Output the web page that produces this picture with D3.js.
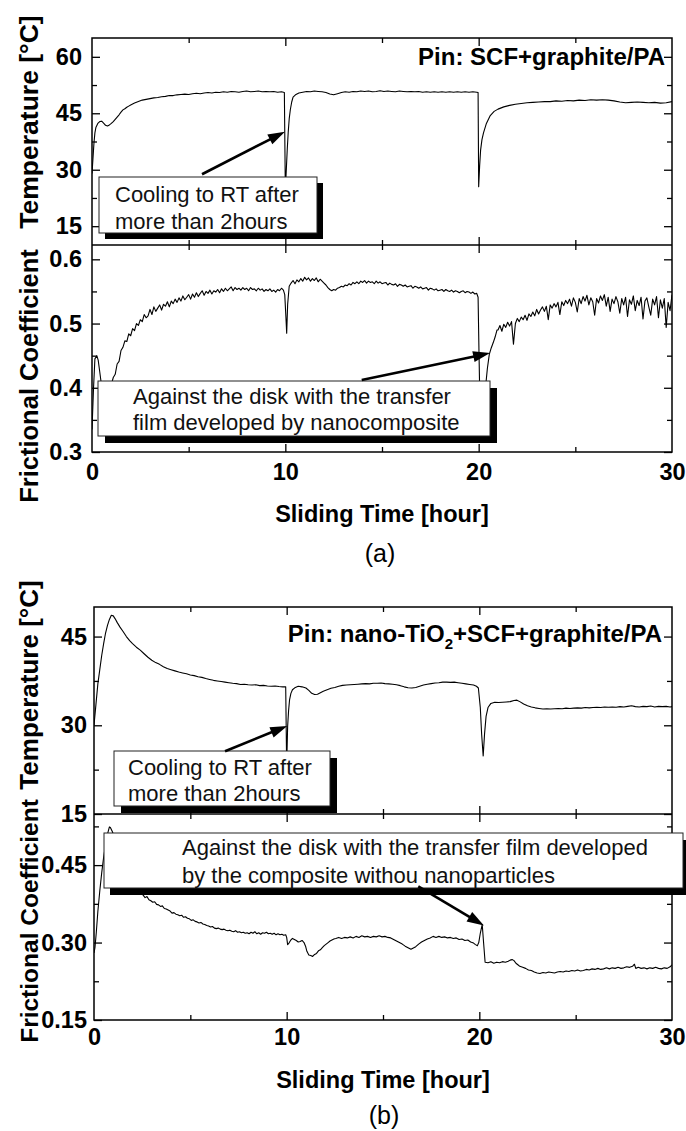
<!DOCTYPE html>
<html>
<head>
<meta charset="utf-8">
<script src="https://cdn.jsdelivr.net/npm/d3@7"></script>
<style>
  body { margin: 0; background: #fff; }
  svg { display: block; }
  text { font-family: "Liberation Sans", Arial, Helvetica, sans-serif; }
</style>
</head>
<body>
<svg id="chart" width="686" height="1131"></svg>
<script>
// ---------- data: [sliding time (h), value] ----------
const tempA = [[0,29],[0.05,33],[0.1,37],[0.15,39.8],[0.2,41.2],[0.3,42.3],[0.4,42.8],[0.5,42.9],[0.6,42.4],[0.7,41.8],[0.8,41.6],[0.9,41.9],[1.0,42.3],[1.1,42.8],[1.2,43.4],[1.3,44.0],[1.4,44.6],[1.5,45.3],[1.6,45.9],[1.7,46.2],[1.8,46.6],[1.9,46.9],[2.0,47.2],[2.2,47.7],[2.4,48.1],[2.6,48.5],[2.8,48.7],[3.0,48.9],[3.2,49.1],[3.4,49.2],[3.6,49.4],[3.8,49.5],[4.0,49.7],[4.2,49.7],[4.4,49.9],[4.6,50.0],[4.8,50.1],[5.0,50.0],[5.2,50.2],[5.4,50.3],[5.6,50.2],[5.8,50.4],[6.0,50.5],[6.2,50.4],[6.4,50.6],[6.6,50.5],[6.8,50.7],[7.0,50.6],[7.2,50.8],[7.4,50.7],[7.6,50.6],[7.8,50.8],[8.0,50.9],[8.2,50.7],[8.4,50.8],[8.6,50.9],[8.8,50.7],[9.0,50.8],[9.2,50.7],[9.4,50.8],[9.6,50.6],[9.8,50.7],[9.95,50.5],[10.0,24.5],[10.05,30],[10.1,35.5],[10.15,40],[10.2,43.5],[10.26,46],[10.33,48],[10.4,49.3],[10.55,50.0],[10.7,50.4],[10.9,50.6],[11.1,50.8],[11.3,50.7],[11.5,50.9],[11.7,50.8],[11.9,50.7],[12.1,50.5],[12.3,50.1],[12.5,49.9],[12.7,50.2],[12.9,50.5],[13.1,50.7],[13.3,50.6],[13.5,50.8],[13.7,50.7],[13.9,50.9],[14.1,50.8],[14.3,50.9],[14.5,50.7],[14.7,50.8],[14.9,51.0],[15.1,50.8],[15.3,50.9],[15.5,50.8],[15.7,50.7],[15.9,50.9],[16.1,50.8],[16.3,50.7],[16.5,50.8],[16.7,50.7],[16.9,50.8],[17.1,50.6],[17.3,50.7],[17.5,50.6],[17.7,50.7],[17.9,50.6],[18.1,50.7],[18.3,50.6],[18.5,50.7],[18.7,50.6],[18.9,50.7],[19.1,50.6],[19.3,50.7],[19.5,50.6],[19.7,50.7],[19.9,50.6],[19.97,50.5],[20.0,25.5],[20.05,31],[20.1,35.2],[20.17,38],[20.25,39.8],[20.4,42.3],[20.6,44.4],[20.8,45.5],[21.0,46.1],[21.3,46.7],[21.6,47.1],[21.9,47.4],[22.2,47.6],[22.5,47.8],[22.8,47.9],[23.1,48.0],[23.4,48.1],[23.7,48.1],[24.0,48.3],[24.3,48.2],[24.6,48.4],[24.9,48.3],[25.2,48.5],[25.5,48.4],[25.8,48.6],[26.1,48.5],[26.4,48.6],[26.7,48.5],[27.0,48.3],[27.3,48.0],[27.6,47.8],[27.9,47.9],[28.2,48.0],[28.5,47.9],[28.8,47.8],[29.1,47.9],[29.4,47.7],[29.7,47.8],[30.0,48.1]];

const fricA = [[0,0.335],[0.08,0.40],[0.15,0.445],[0.25,0.45],[0.32,0.443],[0.4,0.425],[0.5,0.402],[0.6,0.38],[0.7,0.372],[0.8,0.378],[0.9,0.392],
[1.0,0.405],[1.1,0.416],[1.2,0.421],[1.3,0.437],[1.4,0.441],[1.5,0.458],[1.6,0.463],[1.7,0.473],[1.8,0.472],[1.9,0.484],[2.0,0.481],[2.1,0.492],[2.2,0.489],[2.3,0.5],[2.4,0.497],[2.5,0.506],[2.6,0.503],[2.7,0.514],[2.8,0.509],[2.9,0.512],[3.0,0.522],[3.1,0.514],[3.2,0.526],[3.3,0.519],[3.4,0.524],[3.5,0.529],[3.6,0.521],[3.7,0.53],[3.8,0.527],[3.9,0.534],[4.0,0.526],[4.1,0.535],[4.2,0.531],[4.3,0.538],[4.4,0.533],[4.5,0.54],[4.6,0.535],[4.7,0.543],[4.8,0.537],[4.9,0.541],[5.0,0.545],[5.1,0.538],[5.2,0.546],[5.3,0.541],[5.4,0.548],[5.5,0.542],[5.6,0.547],[5.7,0.551],[5.8,0.544],[5.9,0.55],[6.0,0.547],[6.1,0.552],[6.2,0.546],[6.3,0.551],[6.4,0.549],[6.5,0.553],[6.6,0.548],[6.7,0.554],[6.8,0.55],[6.9,0.555],[7.0,0.551],[7.1,0.554],[7.2,0.557],[7.3,0.551],[7.4,0.556],[7.5,0.553],[7.6,0.555],[7.7,0.552],[7.8,0.556],[7.9,0.553],[8.0,0.555],[8.1,0.551],[8.2,0.556],[8.3,0.553],[8.4,0.554],[8.5,0.551],[8.6,0.555],[8.7,0.552],[8.8,0.554],[8.9,0.55],[9.0,0.553],[9.1,0.551],[9.2,0.554],[9.3,0.55],[9.4,0.552],[9.5,0.549],[9.6,0.553],[9.7,0.551],[9.8,0.555],[9.9,0.552],[9.97,0.545],[10.03,0.51],[10.07,0.485],[10.12,0.53],[10.2,0.558],[10.3,0.563],[10.4,0.567],[10.5,0.562],[10.6,0.568],[10.7,0.565],[10.8,0.57],[10.9,0.566],[11.0,0.572],[11.1,0.568],[11.2,0.571],[11.3,0.566],[11.4,0.57],[11.5,0.567],[11.6,0.571],[11.7,0.565],[11.8,0.569],[11.9,0.566],[12.0,0.563],[12.1,0.56],[12.2,0.556],[12.3,0.553],[12.4,0.551],[12.5,0.553],[12.6,0.552],[12.7,0.555],[12.8,0.556],[12.9,0.558],[13.0,0.557],[13.1,0.56],[13.2,0.559],[13.3,0.562],[13.4,0.56],[13.5,0.564],[13.6,0.562],[13.7,0.565],[13.8,0.562],[13.9,0.566],[14.0,0.564],[14.1,0.567],[14.2,0.563],[14.3,0.566],[14.4,0.564],[14.5,0.565],[14.6,0.562],[14.7,0.566],[14.8,0.563],[14.9,0.565],[15.0,0.562],[15.1,0.563],[15.2,0.564],[15.3,0.56],[15.4,0.563],[15.5,0.561],[15.6,0.56],[15.7,0.562],[15.8,0.558],[15.9,0.561],[16.0,0.56],[16.1,0.558],[16.2,0.56],[16.3,0.557],[16.4,0.558],[16.5,0.559],[16.6,0.555],[16.7,0.558],[16.8,0.557],[16.9,0.555],[17.0,0.557],[17.1,0.554],[17.2,0.555],[17.3,0.556],[17.4,0.552],[17.5,0.555],[17.6,0.554],[17.7,0.552],[17.8,0.554],[17.9,0.551],[18.0,0.552],[18.1,0.553],[18.2,0.55],[18.3,0.553],[18.4,0.551],[18.5,0.55],[18.6,0.552],[18.7,0.549],[18.8,0.551],[18.9,0.55],[19.0,0.548],[19.1,0.55],[19.2,0.551],[19.3,0.548],[19.4,0.55],[19.5,0.549],[19.6,0.547],[19.7,0.549],[19.8,0.546],[19.9,0.547],[19.97,0.541],
[20.02,0.45],[20.08,0.35],[20.2,0.34],[20.32,0.39],[20.45,0.43],[20.55,0.452],[20.65,0.462],[20.75,0.47],[20.85,0.479],[20.95,0.49],
[21.0,0.49],[21.1,0.497],[21.2,0.488],[21.3,0.499],[21.4,0.494],[21.5,0.502],[21.6,0.496],[21.7,0.503],[21.8,0.468],[21.9,0.5],[22.0,0.508],[22.1,0.503],[22.2,0.51],[22.3,0.506],[22.4,0.513],[22.5,0.505],[22.6,0.515],[22.7,0.511],[22.8,0.518],[22.9,0.512],[23.0,0.522],[23.1,0.515],[23.2,0.521],[23.3,0.526],[23.4,0.519],[23.5,0.527],[23.6,0.506],[23.7,0.529],[23.8,0.524],[23.9,0.531],[24.0,0.526],[24.1,0.533],[24.2,0.514],[24.3,0.534],[24.4,0.528],[24.5,0.536],[24.6,0.531],[24.7,0.538],[24.8,0.527],[24.9,0.54],[25.0,0.533],[25.1,0.518],[25.2,0.539],[25.3,0.531],[25.4,0.542],[25.5,0.535],[25.6,0.544],[25.7,0.529],[25.8,0.54],[25.9,0.534],[26.0,0.513],[26.1,0.539],[26.2,0.532],[26.3,0.543],[26.4,0.536],[26.5,0.545],[26.6,0.527],[26.7,0.541],[26.8,0.519],[26.9,0.538],[27.0,0.531],[27.1,0.542],[27.2,0.534],[27.3,0.516],[27.4,0.539],[27.5,0.529],[27.6,0.541],[27.7,0.511],[27.8,0.537],[27.9,0.53],[28.0,0.543],[28.1,0.52],[28.2,0.536],[28.3,0.528],[28.4,0.541],[28.5,0.507],[28.6,0.535],[28.7,0.54],[28.8,0.526],[28.9,0.513],[29.0,0.538],[29.1,0.529],[29.2,0.542],[29.3,0.509],[29.4,0.537],[29.5,0.524],[29.6,0.539],[29.7,0.494],[29.8,0.533],[29.9,0.52],[30.0,0.545]];

const tempB = [[0,30],[0.1,33.5],[0.2,37],[0.3,39.4],[0.4,41.8],[0.5,43.8],[0.6,45.6],[0.7,46.9],[0.8,47.9],[0.9,48.6],[1.0,48.5],[1.1,48.0],[1.2,47.4],[1.35,46.6],[1.5,45.9],[1.68,45.0],[1.85,44.3],[2.0,43.8],[2.2,43.2],[2.4,42.7],[2.6,42.1],[2.8,41.5],[3.0,41.0],[3.2,40.6],[3.4,40.3],[3.6,39.9],[3.8,39.6],[4.0,39.4],[4.2,39.2],[4.4,39.0],[4.6,38.85],[4.8,38.7],[5.0,38.5],[5.2,38.4],[5.4,38.2],[5.6,38.1],[5.8,37.9],[6.0,37.75],[6.2,37.6],[6.4,37.5],[6.6,37.4],[6.8,37.3],[7.0,37.2],[7.2,37.1],[7.4,37.05],[7.6,36.9],[7.8,36.95],[8.0,36.85],[8.2,36.8],[8.4,36.85],[8.6,36.7],[8.8,36.75],[9.0,36.65],[9.2,36.6],[9.4,36.65],[9.6,36.55],[9.8,36.5],[9.95,36.5],[10.0,23],[10.05,29.8],[10.1,32.5],[10.15,34.3],[10.22,35.4],[10.3,36.0],[10.45,36.4],[10.6,36.6],[10.8,36.5],[11.0,36.3],[11.15,35.9],[11.3,35.4],[11.45,35.2],[11.6,35.25],[11.75,35.5],[11.9,35.75],[12.1,36.0],[12.3,36.25],[12.5,36.4],[12.7,36.6],[12.9,36.75],[13.1,36.8],[13.3,36.85],[13.5,36.9],[13.7,36.95],[13.9,37.0],[14.1,37.05],[14.3,37.0],[14.5,37.1],[14.7,37.1],[14.9,37.15],[15.1,37.05],[15.3,37.0],[15.5,36.95],[15.7,36.85],[15.9,36.7],[16.1,36.5],[16.3,36.35],[16.5,36.3],[16.7,36.4],[16.9,36.6],[17.1,36.8],[17.3,36.95],[17.5,37.05],[17.7,37.15],[17.9,37.2],[18.1,37.3],[18.3,37.3],[18.5,37.25],[18.7,37.3],[18.9,37.2],[19.1,37.1],[19.3,37.0],[19.5,36.9],[19.7,36.8],[19.85,36.6],[19.95,36.3],[20.05,33],[20.12,28.5],[20.2,24.8],[20.27,28.5],[20.35,31.5],[20.45,33.0],[20.6,33.7],[20.8,33.9],[21.0,33.85],[21.2,33.9],[21.4,33.95],[21.6,34.0],[21.8,34.2],[21.95,34.25],[22.1,34.0],[22.3,33.6],[22.5,33.3],[22.7,33.1],[22.9,32.95],[23.1,32.85],[23.3,32.75],[23.5,32.8],[23.7,32.75],[23.9,32.8],[24.1,32.85],[24.3,32.8],[24.5,32.9],[24.7,32.85],[24.9,32.9],[25.1,32.95],[25.3,32.9],[25.5,33.0],[25.7,32.95],[25.9,33.0],[26.1,33.05],[26.3,33.0],[26.5,33.1],[26.7,33.05],[26.9,33.1],[27.1,33.05],[27.3,33.15],[27.5,33.1],[27.7,33.2],[27.9,33.3],[28.1,33.15],[28.3,33.1],[28.5,33.2],[28.7,33.15],[28.9,33.25],[29.1,33.1],[29.3,33.2],[29.5,33.15],[29.7,33.2],[29.9,33.1],[30,33.15]];

const fricB = [[0,0.28],[0.05,0.29],[0.12,0.32],[0.2,0.36],[0.3,0.40],[0.4,0.435],[0.5,0.465],[0.6,0.49],[0.7,0.51],[0.8,0.524],[0.85,0.523],[0.95,0.515],[1.05,0.505],[1.2,0.49],[1.35,0.475],[1.5,0.462],[1.7,0.445],[1.9,0.43],[2.1,0.418],[2.3,0.405],[2.45,0.396],[2.55,0.392],[2.65,0.387],[2.75,0.389],[2.85,0.383],[2.95,0.381],[3.05,0.378],[3.15,0.379],[3.25,0.374],[3.35,0.373],[3.45,0.37],[3.55,0.371],[3.65,0.366],[3.75,0.365],[3.85,0.363],[3.95,0.361],[4.05,0.357],[4.15,0.358],[4.25,0.355],[4.35,0.354],[4.45,0.352],[4.55,0.353],[4.65,0.349],[4.75,0.35],[4.85,0.347],[4.95,0.346],[5.05,0.343],[5.15,0.344],[5.25,0.341],[5.35,0.34],[5.45,0.338],[5.55,0.339],[5.65,0.336],[5.75,0.335],[5.85,0.333],[5.95,0.332],[6.05,0.33],[6.15,0.331],[6.25,0.328],[6.35,0.327],[6.45,0.328],[6.55,0.326],[6.65,0.325],[6.75,0.326],[6.85,0.324],[6.95,0.323],[7.05,0.324],[7.15,0.322],[7.25,0.321],[7.35,0.323],[7.45,0.32],[7.55,0.321],[7.65,0.319],[7.75,0.32],[7.85,0.318],[7.95,0.319],[8.05,0.317],[8.15,0.32],[8.25,0.318],[8.35,0.321],[8.45,0.317],[8.55,0.319],[8.65,0.316],[8.75,0.319],[8.85,0.318],[8.95,0.32],[9.05,0.317],[9.15,0.318],[9.25,0.316],[9.35,0.318],[9.45,0.315],[9.55,0.317],[9.65,0.315],[9.75,0.316],[9.85,0.314],[9.95,0.315],[10.0,0.31],[10.05,0.296],[10.12,0.299],[10.2,0.304],[10.3,0.308],[10.4,0.306],[10.5,0.304],[10.6,0.301],[10.7,0.302],[10.8,0.304],[10.9,0.3],[10.98,0.293],[11.05,0.283],[11.15,0.276],[11.25,0.275],[11.35,0.273],[11.45,0.277],[11.55,0.279],[11.65,0.284],[11.75,0.286],[11.85,0.29],[11.95,0.294],[12.05,0.297],[12.15,0.3],[12.25,0.303],[12.35,0.305],[12.45,0.307],[12.55,0.308],[12.7,0.31],[12.85,0.308],[13.0,0.31],[13.15,0.309],[13.3,0.311],[13.45,0.309],[13.6,0.312],[13.75,0.31],[13.9,0.313],[14.05,0.311],[14.2,0.312],[14.35,0.31],[14.5,0.312],[14.65,0.311],[14.8,0.313],[14.95,0.311],[15.1,0.312],[15.25,0.31],[15.4,0.309],[15.55,0.306],[15.7,0.303],[15.85,0.3],[16.0,0.297],[16.15,0.293],[16.3,0.29],[16.45,0.287],[16.55,0.289],[16.7,0.292],[16.85,0.297],[17.0,0.301],[17.15,0.304],[17.3,0.307],[17.45,0.309],[17.6,0.312],[17.75,0.31],[17.9,0.312],[18.05,0.31],[18.2,0.311],[18.35,0.309],[18.5,0.31],[18.65,0.308],[18.8,0.309],[18.95,0.306],[19.1,0.307],[19.25,0.304],[19.4,0.305],[19.55,0.301],[19.7,0.299],[19.8,0.296],[19.9,0.294],[19.97,0.3],[20.05,0.318],[20.15,0.335],[20.22,0.3],[20.3,0.262],[20.45,0.261],[20.6,0.263],[20.75,0.26],[20.9,0.262],[21.05,0.261],[21.2,0.263],[21.35,0.262],[21.5,0.264],[21.6,0.266],[21.7,0.267],[21.8,0.265],[21.9,0.26],[22.0,0.257],[22.1,0.254],[22.25,0.252],[22.4,0.25],[22.55,0.247],[22.7,0.246],[22.85,0.243],[23.0,0.241],[23.15,0.24],[23.3,0.242],[23.45,0.241],[23.6,0.243],[23.75,0.242],[23.9,0.241],[24.05,0.243],[24.2,0.244],[24.35,0.243],[24.5,0.245],[24.65,0.244],[24.8,0.246],[24.95,0.245],[25.1,0.247],[25.25,0.245],[25.4,0.246],[25.55,0.248],[25.7,0.247],[25.85,0.249],[26.0,0.248],[26.15,0.25],[26.3,0.248],[26.45,0.249],[26.6,0.251],[26.75,0.249],[26.9,0.251],[27.05,0.25],[27.2,0.252],[27.35,0.25],[27.5,0.251],[27.65,0.253],[27.8,0.252],[27.95,0.254],[28.05,0.258],[28.12,0.25],[28.25,0.252],[28.4,0.25],[28.55,0.251],[28.7,0.249],[28.85,0.251],[29.0,0.25],[29.15,0.252],[29.3,0.25],[29.45,0.249],[29.6,0.251],[29.75,0.25],[29.9,0.253],[30.0,0.257]];

// ---------- axis ticks ----------
const timeTicks = [0, 10, 20, 30];
const timeMinor = [5, 15, 25];
const tempTicksA = [15, 30, 45, 60];
const tempMinorA = [22.5, 37.5, 52.5];
const fricTicksA = [0.3, 0.4, 0.5, 0.6];
const fricMinorA = [0.35, 0.45, 0.55];
const tempTicksB = [15, 30, 45];
const tempMinorB = [22.5, 37.5];
const fricTicksB = [0.15, 0.30, 0.45];
const fricMinorB = [0.225, 0.375, 0.525];

// ---------- text ----------
const xTitle = "Sliding Time [hour]";
const tempTitle = "Temperature [°C]";
const fricTitle = "Frictional Coefficient";

const svg = d3.select("#chart");
const FONT = '"Liberation Sans", Arial, Helvetica, sans-serif';

function arrow(g, x1, y1, x2, y2) {
  const dx = x2 - x1, dy = y2 - y1, L = Math.hypot(dx, dy);
  const ux = dx / L, uy = dy / L, hl = 17, hw = 5.5;
  const bx = x2 - ux * hl, by = y2 - uy * hl;
  g.append("line").attr("x1", x1).attr("y1", y1).attr("x2", bx + ux * 2).attr("y2", by + uy * 2)
    .attr("stroke", "#000").attr("stroke-width", 2.6);
  g.append("path")
    .attr("d", `M${x2},${y2}L${bx - uy * hw},${by + ux * hw}L${bx + uy * hw},${by - ux * hw}Z`)
    .attr("fill", "#000");
}

function noteBox(g, b) {
  g.append("rect").attr("x", b.x + b.sx).attr("y", b.y + b.sy).attr("width", b.w).attr("height", b.h)
    .attr("fill", "#000");
  g.append("rect").attr("x", b.x).attr("y", b.y).attr("width", b.w).attr("height", b.h)
    .attr("fill", "#fff").attr("stroke", "#222").attr("stroke-width", 1);
  b.lines.forEach((t, i) => {
    g.append("text").attr("x", b.tx).attr("y", b.ty[i]).attr("font-size", 22)
      .attr("fill", "#111").text(t);
  });
}

function styleAxis(sel, fs) {
  sel.attr("font-family", FONT).attr("font-size", fs).attr("font-weight", "bold");
  sel.select(".domain").remove();
  sel.selectAll(".tick line").attr("stroke", "#000").attr("stroke-width", 1.3);
  sel.selectAll(".tick text").attr("fill", "#000");
}

function drawFigure(cfg) {
  const g = svg.append("g");
  const x = d3.scaleLinear().domain([0, 30]).range([cfg.left, cfg.right]);
  const yT = d3.scaleLinear().domain(cfg.tempDomain).range([cfg.mid, cfg.top]);
  const yF = d3.scaleLinear().domain(cfg.fricDomain).range([cfg.bottom, cfg.mid]);

  const clipT = "clipT" + cfg.id, clipF = "clipF" + cfg.id;
  const defs = g.append("defs");
  defs.append("clipPath").attr("id", clipT).append("rect")
    .attr("x", cfg.left).attr("y", cfg.top).attr("width", cfg.right - cfg.left).attr("height", cfg.mid - cfg.top);
  defs.append("clipPath").attr("id", clipF).append("rect")
    .attr("x", cfg.left).attr("y", cfg.mid).attr("width", cfg.right - cfg.left).attr("height", cfg.bottom - cfg.mid);

  // data traces
  const lineT = d3.line().x(d => x(d[0])).y(d => yT(d[1]));
  const lineF = d3.line().x(d => x(d[0])).y(d => yF(d[1]));
  g.append("path").datum(cfg.temp).attr("d", lineT).attr("clip-path", `url(#${clipT})`)
    .attr("fill", "none").attr("stroke", "#000").attr("stroke-width", 1.1).attr("stroke-linejoin", "round");
  g.append("path").datum(cfg.fric).attr("d", lineF).attr("clip-path", `url(#${clipF})`)
    .attr("fill", "none").attr("stroke", "#000").attr("stroke-width", 1.1).attr("stroke-linejoin", "round");

  // ticks (all pointing inward)
  const maj = 8, mnr = 5, fs = 23.5;
  const addAxis = (axis, tx, ty) => {
    const a = g.append("g").attr("transform", `translate(${tx},${ty})`).call(axis);
    styleAxis(a, fs);
    return a;
  };
  // left temperature
  addAxis(d3.axisLeft(yT).tickValues(cfg.tempTicks).tickSizeInner(-maj).tickSizeOuter(0)
    .tickPadding(cfg.yPad).tickFormat(d3.format("d")), cfg.left, 0);
  addAxis(d3.axisLeft(yT).tickValues(cfg.tempMinor).tickSizeInner(-mnr).tickSizeOuter(0).tickFormat(""), cfg.left, 0);
  // left friction
  addAxis(d3.axisLeft(yF).tickValues(cfg.fricTicks).tickSizeInner(-maj).tickSizeOuter(0)
    .tickPadding(cfg.yPad).tickFormat(d3.format(cfg.fricFmt)), cfg.left, 0);
  addAxis(d3.axisLeft(yF).tickValues(cfg.fricMinor).tickSizeInner(-mnr).tickSizeOuter(0).tickFormat(""), cfg.left, 0);
  // right side
  addAxis(d3.axisRight(yT).tickValues(cfg.tempTicks).tickSizeInner(-maj).tickSizeOuter(0).tickFormat(""), cfg.right, 0);
  addAxis(d3.axisRight(yT).tickValues(cfg.tempMinor).tickSizeInner(-mnr).tickSizeOuter(0).tickFormat(""), cfg.right, 0);
  addAxis(d3.axisRight(yF).tickValues(cfg.fricTicks).tickSizeInner(-maj).tickSizeOuter(0).tickFormat(""), cfg.right, 0);
  addAxis(d3.axisRight(yF).tickValues(cfg.fricMinor).tickSizeInner(-mnr).tickSizeOuter(0).tickFormat(""), cfg.right, 0);
  // horizontal edges: top, divider (both sides), bottom
  const inner = timeTicks.filter(t => t > 0 && t < 30);
  [[d3.axisTop, cfg.top], [d3.axisBottom, cfg.mid], [d3.axisTop, cfg.mid]].forEach(([fn, yy]) => {
    addAxis(fn(x).tickValues(inner).tickSizeInner(-maj).tickSizeOuter(0).tickFormat(""), 0, yy);
    addAxis(fn(x).tickValues(timeMinor).tickSizeInner(-mnr).tickSizeOuter(0).tickFormat(""), 0, yy);
  });
  const xb = addAxis(d3.axisBottom(x).tickValues(timeTicks).tickSizeInner(-maj).tickSizeOuter(0)
    .tickPadding(cfg.xPad).tickFormat(d3.format("d")), 0, cfg.bottom);
  xb.selectAll(".tick line").filter(d => d === 0 || d === 30).remove();
  addAxis(d3.axisBottom(x).tickValues(timeMinor).tickSizeInner(-mnr).tickSizeOuter(0).tickFormat(""), 0, cfg.bottom);

  // frame
  g.append("rect").attr("x", cfg.left).attr("y", cfg.top)
    .attr("width", cfg.right - cfg.left).attr("height", cfg.bottom - cfg.top)
    .attr("fill", "none").attr("stroke", "#000").attr("stroke-width", 1.5);
  g.append("line").attr("x1", cfg.left).attr("x2", cfg.right).attr("y1", cfg.mid).attr("y2", cfg.mid)
    .attr("stroke", "#000").attr("stroke-width", 1.5);

  // annotations
  cfg.boxes.forEach(b => noteBox(g, b));
  cfg.arrows.forEach(a => {
    const ys = a.panel === "T" ? yT : yF;
    arrow(g, x(a.from[0]), ys(a.from[1]), x(a.to[0]), ys(a.to[1]));
  });

  // sample label
  const pin = g.append("text").attr("x", cfg.pinX).attr("y", cfg.pinY).attr("text-anchor", "end")
    .attr("font-size", 24).attr("font-weight", "bold").attr("fill", "#000");
  cfg.pinParts.forEach(p => {
    const t = pin.append("tspan").text(p.t);
    if (p.sub) t.attr("font-size", 15).attr("dy", 7);
    if (p.after) t.attr("dy", -7);
  });

  // axis titles
  g.append("text").attr("transform", `translate(${cfg.yTitleX},${cfg.tempTitleY}) rotate(-90)`)
    .attr("text-anchor", "middle").attr("font-size", cfg.tempTitleSize).attr("font-weight", "bold").text(tempTitle);
  g.append("text").attr("transform", `translate(${cfg.yTitleX},${cfg.fricTitleY}) rotate(-90)`)
    .attr("text-anchor", "middle").attr("font-size", cfg.fricTitleSize).attr("font-weight", "bold").text(fricTitle);
  g.append("text").attr("x", (cfg.left + cfg.right) / 2).attr("y", cfg.xTitleY)
    .attr("text-anchor", "middle").attr("font-size", 23.5).attr("font-weight", "bold").text(xTitle);
  g.append("text").attr("x", cfg.tagX).attr("y", cfg.tagY)
    .attr("text-anchor", "middle").attr("font-size", 25).text(cfg.tag);
}

// (a) SCF + graphite / PA pin
drawFigure({
  id: "a", left: 92, right: 672, top: 38, mid: 245, bottom: 452,
  tempDomain: [10, 65], fricDomain: [0.3, 0.6223],
  temp: tempA, fric: fricA,
  tempTicks: tempTicksA, tempMinor: tempMinorA,
  fricTicks: fricTicksA, fricMinor: fricMinorA, fricFmt: ".1f",
  yPad: 10, xPad: 11,
  pinX: 665, pinY: 65, pinParts: [{ t: "Pin: SCF+graphite/PA" }],
  boxes: [
    { x: 99, y: 177, w: 218, h: 56, sx: 6, sy: 6, tx: 115, ty: [202, 229],
      lines: ["Cooling to RT after", "more than 2hours"] },
    { x: 98, y: 381, w: 392, h: 55, sx: 7, sy: 7, tx: 133, ty: [404, 430],
      lines: ["Against the disk with the transfer", "film developed by nanocomposite"] }
  ],
  arrows: [
    { panel: "T", from: [5.69, 28.8], to: [9.98, 40.1] },
    { panel: "F", from: [13.95, 0.412], to: [20.59, 0.454] }
  ],
  yTitleX: 38, tempTitleY: 122, fricTitleY: 376, tempTitleSize: 26.5, fricTitleSize: 25.5,
  xTitleY: 522, tag: "(a)", tagX: 380, tagY: 562
});

// (b) nano-TiO2 + SCF + graphite / PA pin
drawFigure({
  id: "b", left: 94, right: 672, top: 607, mid: 814, bottom: 1020,
  tempDomain: [15, 50], fricDomain: [0.15, 0.549],
  temp: tempB, fric: fricB,
  tempTicks: tempTicksB, tempMinor: tempMinorB,
  fricTicks: fricTicksB, fricMinor: fricMinorB, fricFmt: ".2f",
  yPad: 7, xPad: 8,
  pinX: 662, pinY: 642,
  pinParts: [{ t: "Pin: nano-TiO" }, { t: "2", sub: true }, { t: "+SCF+graphite/PA", after: true }],
  boxes: [
    { x: 114, y: 751, w: 216, h: 55, sx: 7, sy: 7, tx: 128, ty: [775, 801],
      lines: ["Cooling to RT after", "more than 2hours"] },
    { x: 104, y: 833, w: 579, h: 55, sx: 6, sy: 7, tx: 182, ty: [855, 883],
      lines: ["Against the disk with the transfer film developed", "by the composite withou nanoparticles"] }
  ],
  arrows: [
    { panel: "T", from: [6.8, 25.6], to: [10.03, 29.9] },
    { panel: "F", from: [16.83, 0.409], to: [20.24, 0.333] }
  ],
  yTitleX: 38, tempTitleY: 685, fricTitleY: 921, tempTitleSize: 26, fricTitleSize: 24.5,
  xTitleY: 1088, tag: "(b)", tagX: 384, tagY: 1124
});
</script>
</body>
</html>
